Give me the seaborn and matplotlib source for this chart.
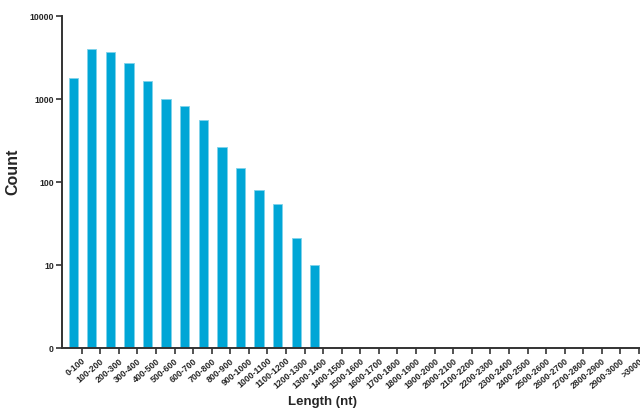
import matplotlib
matplotlib.use("Agg")
import matplotlib.pyplot as plt
import seaborn as sns
import numpy as np

# length bins (nt) and read counts
bins = ['0-100', '100-200', '200-300', '300-400', '400-500', '500-600', '600-700',
        '700-800', '800-900', '900-1000', '1000-1100', '1100-1200', '1200-1300',
        '1300-1400', '1400-1500', '1500-1600', '1600-1700', '1700-1800', '1800-1900',
        '1900-2000', '2000-2100', '2100-2200', '2200-2300', '2300-2400', '2400-2500',
        '2500-2600', '2600-2700', '2700-2800', '2800-2900', '2900-3000', '>3000']
counts = [1790, 3960, 3650, 2740, 1650, 990, 816, 558, 264, 149, 81, 54, 21, 10,
          0, 0, 0, 0, 0, 0, 0, 0, 0, 0, 0, 0, 0, 0, 0, 0, 0]

ytick_vals = [1, 10, 100, 1000, 10000]
ytick_labels = ['0', '10', '100', '1000', '10000']

sns.set_style("ticks")
plt.rcParams['font.family'] = ['Liberation Sans', 'DejaVu Sans']
plt.rcParams['font.weight'] = 'bold'

fig = plt.figure(figsize=(6.4, 4.11), dpi=100)
ax = fig.add_axes([0.097, 0.153, 0.903, 0.808])

sns.barplot(x=bins, y=counts, color="#00a6d6", width=0.5, saturation=1,
            edgecolor="#7fd2ea", linewidth=0.6, ax=ax)

ax.set_yscale('log')
ax.set_ylim(1, 10000)
ax.set_yticks(ytick_vals)
ax.set_yticklabels(ytick_labels)
ax.minorticks_off()
ax.set_xlim(-0.6, 30.5)

ax.set_xticks(np.arange(len(bins)) + 0.45)
ax.set_xticklabels(bins, rotation=40, ha='right', rotation_mode='anchor')

for lab in ax.get_xticklabels() + ax.get_yticklabels():
    lab.set_fontsize(6.3)
    lab.set_fontweight('bold')

ax.tick_params(axis='both', length=4, width=1.2, color='#333333', pad=2)
for s in ['left', 'bottom']:
    ax.spines[s].set_linewidth(1.4)
    ax.spines[s].set_color('#333333')
sns.despine(ax=ax)

ax.set_ylabel('Count', fontsize=11.5, fontweight='bold')
ax.set_xlabel('Length (nt)', fontsize=9.5, fontweight='bold')
ax.yaxis.set_label_coords(-0.073, 0.53)
ax.xaxis.set_label_coords(0.45, -0.145)

fig.savefig('out.png', dpi=100)
